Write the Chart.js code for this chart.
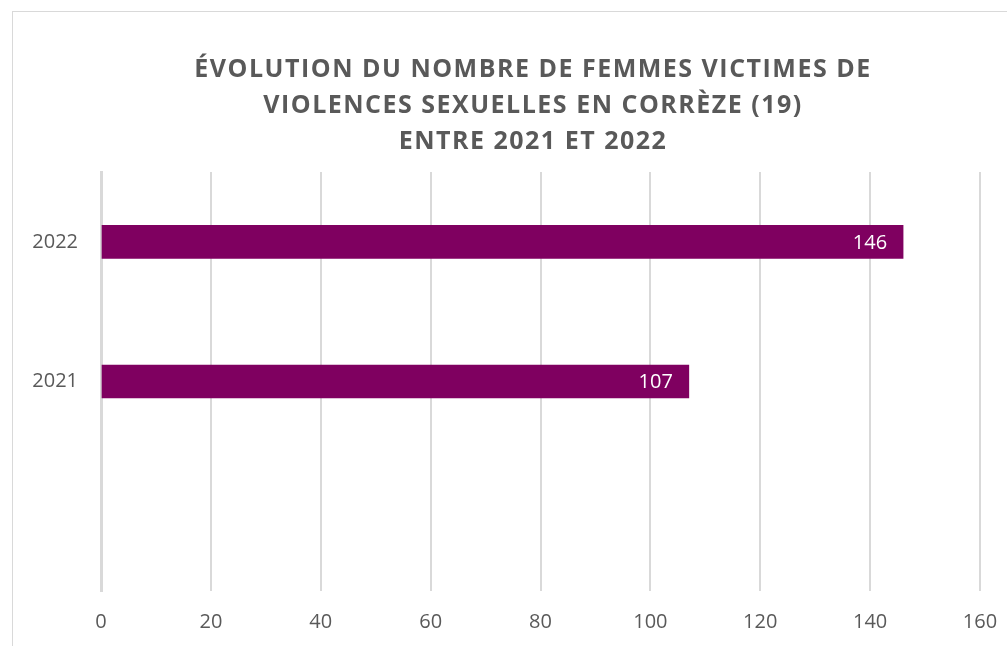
<!DOCTYPE html>
<html>
<head>
<meta charset="utf-8">
<script src="https://cdn.jsdelivr.net/npm/chart.js@4/dist/chart.umd.min.js"></script>
<style>
  html, body { margin: 0; padding: 0; background: #fff; overflow: hidden; }
  body { width: 1007px; height: 646px; position: relative; }
  .frame { position: absolute; left: 12px; top: 11px; width: 1100px; height: 700px;
           border-left: 1px solid #d9d9d9; border-top: 1px solid #d9d9d9; }
  .wrap { position: absolute; left: 12px; top: 11px; width: 1042px; height: 660px; }
</style>
</head>
<body>
<div class="frame"></div>
<div class="wrap"><canvas id="bars"></canvas></div>
<script>
let years = ['2022', '2021', ''];
let victims = [146, 107, null];
let xTicks = [0, 20, 40, 60, 80, 100, 120, 140, 160];
let titleLines = [
  'ÉVOLUTION DU NOMBRE DE FEMMES VICTIMES DE',
  'VIOLENCES SEXUELLES EN CORRÈZE (19)',
  'ENTRE 2021 ET 2022'
];

// white value labels drawn inside the end of each bar
let valueLabels = {
  id: 'valueLabels',
  afterDatasetsDraw(chart) {
    let ctx = chart.ctx;
    let meta = chart.getDatasetMeta(0);
    ctx.save();
    ctx.font = '20px "Open Sans"';
    ctx.fillStyle = '#ffffff';
    ctx.textAlign = 'right';
    ctx.textBaseline = 'middle';
    meta.data.forEach((bar, i) => {
      let v = victims[i];
      if (v == null) return;
      ctx.fillText(String(v), bar.x - 16, bar.y + 1);
    });
    ctx.restore();
  }
};

// the title in the original is a bit spread out
let spacedTitle = {
  id: 'spacedTitle',
  beforeDraw(chart) {
    let block = chart.titleBlock;
    if (!block || block._spaced) return;
    let draw = block.draw.bind(block);
    block.draw = function () {
      let ctx = this.ctx;
      ctx.save();
      ctx.letterSpacing = '1.5px';
      draw();
      ctx.restore();
    };
    block._spaced = true;
  }
};

let victimChart = new Chart('bars', {
  type: 'bar',
  data: {
    labels: years,
    datasets: [{
      label: 'Femmes victimes',
      data: victims,
      backgroundColor: '#7f0060',
      barThickness: 33
    }]
  },
  options: {
    indexAxis: 'y',
    responsive: true,
    maintainAspectRatio: false,
    animation: false,
    layout: {
      padding: { left: 0, right: 0, top: 0, bottom: 18 }
    },
    plugins: {
      legend: { display: false },
      tooltip: { enabled: false },
      title: {
        display: true,
        text: titleLines,
        color: '#595959',
        font: { family: '"Open Sans"', size: 25, weight: 'bold', lineHeight: 1.44 },
        padding: { top: 41, bottom: 12 }
      }
    },
    scales: {
      x: {
        min: 0,
        max: 160,
        afterBuildTicks: scale => {
          scale.ticks = xTicks.map(v => ({ value: v }));
        },
        grid: {
          color: '#d9d9d9',
          lineWidth: 2,
          drawTicks: false
        },
        border: { display: false },
        ticks: {
          color: '#595959',
          padding: 19,
          font: { family: '"Open Sans"', size: 20 }
        }
      },
      y: {
        afterFit: scale => { scale.width = 89; },
        grid: { display: false, drawTicks: false },
        border: { display: true, color: '#d9d9d9', width: 3 },
        ticks: {
          color: '#595959',
          padding: 23,
          font: { family: '"Open Sans"', size: 20 }
        }
      },
      // empty spacer on the right so the title stays centred on the full width
      yRight: {
        type: 'linear',
        axis: 'y',
        position: 'right',
        afterFit: scale => { scale.width = 74; },
        grid: { display: false, drawTicks: false },
        border: { display: false },
        ticks: { display: false }
      }
    }
  },
  plugins: [valueLabels, spacedTitle]
});
</script>
</body>
</html>
